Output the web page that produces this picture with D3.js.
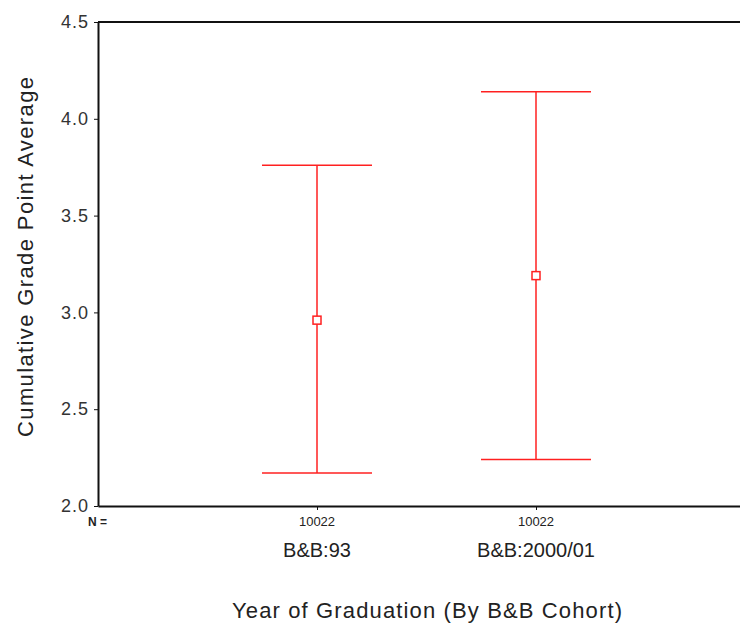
<!DOCTYPE html>
<html>
<head>
<meta charset="utf-8">
<script src="https://cdn.jsdelivr.net/npm/d3@7"></script>
<style>
  body { margin: 0; background: #fff; }
  svg text { font-family: "Liberation Sans", Arial, sans-serif; fill: #222; }
</style>
</head>
<body>
<svg id="chart" width="740" height="624"></svg>
<script>
// data
var cohorts = ["B&B:93", "B&B:2000/01"];
var counts = ["10022", "10022"];
var means = [2.96, 3.19];
var upper = [3.76, 4.14];
var lower = [2.17, 2.24];
var yTicks = [2.0, 2.5, 3.0, 3.5, 4.0, 4.5];

var margin = { top: 22, left: 98 },
    plotBottom = 506,
    plotRight = 755;

var svg = d3.select('#chart');

var y = d3.scaleLinear()
  .domain([2.0, 4.5])
  .range([plotBottom, margin.top]);

var x = d3.scalePoint()
  .domain(cohorts)
  .range([margin.left, plotRight])
  .padding(1);

// top frame line
svg.append('line')
  .attr('x1', margin.left).attr('x2', 740)
  .attr('y1', y(4.5)).attr('y2', y(4.5))
  .attr('stroke', '#111').attr('stroke-width', 2);

// y axis
var yAxis = svg.append('g')
  .attr('transform', 'translate(' + margin.left + ',0)')
  .call(d3.axisLeft(y).tickValues(yTicks).tickFormat(d3.format('.1f')).tickSize(4).tickSizeOuter(0));
yAxis.select('.domain').attr('stroke', '#111').attr('stroke-width', 2);
yAxis.selectAll('.tick line').attr('stroke', '#111');
yAxis.selectAll('.tick text')
  .attr('x', -9)
  .style('font-size', '18px')
  .style('letter-spacing', '1px')
  .style('fill', '#333');

// x axis
var xAxis = svg.append('g')
  .attr('transform', 'translate(0,' + plotBottom + ')')
  .call(d3.axisBottom(x).tickSize(4).tickSizeOuter(0).tickFormat(''));
xAxis.select('.domain').attr('stroke', '#111').attr('stroke-width', 2);
xAxis.selectAll('.tick line').attr('stroke', '#111');

// N row
svg.append('text')
  .attr('x', 88).attr('y', 526)
  .style('font-size', '12px').style('font-weight', 'bold')
  .text('N =');

svg.selectAll('.ncount')
  .data(counts)
  .enter().append('text')
  .attr('class', 'ncount')
  .attr('x', function(d, i) { return x(cohorts[i]); })
  .attr('y', 526)
  .attr('text-anchor', 'middle')
  .style('font-size', '13px')
  .text(function(d) { return d; });

// category labels
svg.selectAll('.cat')
  .data(cohorts)
  .enter().append('text')
  .attr('class', 'cat')
  .attr('x', function(d) { return x(d); })
  .attr('y', 557)
  .attr('text-anchor', 'middle')
  .style('font-size', '20px')
  .text(function(d) { return d; });

// error bars
var capHalf = 55;
var bars = svg.selectAll('.bar')
  .data(cohorts)
  .enter().append('g')
  .attr('class', 'bar');

bars.append('line')
  .attr('x1', function(d) { return x(d); })
  .attr('x2', function(d) { return x(d); })
  .attr('y1', function(d, i) { return y(upper[i]); })
  .attr('y2', function(d, i) { return y(lower[i]); })
  .attr('stroke', '#ff2020').attr('stroke-width', 1.5);

bars.append('line')
  .attr('x1', function(d) { return x(d) - capHalf; })
  .attr('x2', function(d) { return x(d) + capHalf; })
  .attr('y1', function(d, i) { return y(upper[i]); })
  .attr('y2', function(d, i) { return y(upper[i]); })
  .attr('stroke', '#ff2020').attr('stroke-width', 1.5);

bars.append('line')
  .attr('x1', function(d) { return x(d) - capHalf; })
  .attr('x2', function(d) { return x(d) + capHalf; })
  .attr('y1', function(d, i) { return y(lower[i]); })
  .attr('y2', function(d, i) { return y(lower[i]); })
  .attr('stroke', '#ff2020').attr('stroke-width', 1.5);

bars.append('rect')
  .attr('x', function(d) { return x(d) - 4; })
  .attr('y', function(d, i) { return y(means[i]) - 4; })
  .attr('width', 8).attr('height', 8)
  .attr('fill', '#fff')
  .attr('stroke', '#ff2020').attr('stroke-width', 1.5);

// axis titles
svg.append('text')
  .attr('transform', 'rotate(-90)')
  .attr('x', -257).attr('y', 33)
  .attr('text-anchor', 'middle')
  .attr('textLength', 360).attr('lengthAdjust', 'spacing')
  .style('font-size', '22px')
  .text('Cumulative Grade Point Average');

svg.append('text')
  .attr('x', 427).attr('y', 618)
  .attr('text-anchor', 'middle')
  .attr('textLength', 390).attr('lengthAdjust', 'spacing')
  .style('font-size', '22px')
  .text('Year of Graduation (By B&B Cohort)');
</script>
</body>
</html>
